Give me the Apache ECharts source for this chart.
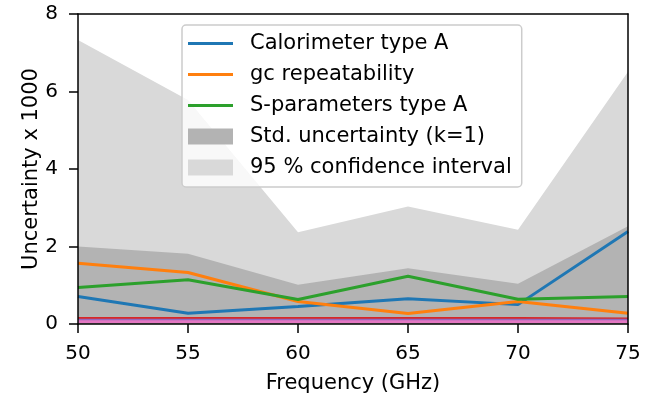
<!DOCTYPE html>
<html>
<head>
<meta charset="utf-8">
<script src="https://cdn.jsdelivr.net/npm/echarts@6/dist/echarts.min.js"></script>
<style>
  html, body { margin: 0; padding: 0; background: #fff; }
  #chart { width: 655px; height: 399px; }
</style>
</head>
<body>
<div id="chart"></div>
<script>
const freqs = [50, 55, 60, 65, 70, 75];
const calorimeterA = [0.71, 0.28, 0.45, 0.65, 0.50, 2.39];
const gcRepeat = [1.57, 1.33, 0.58, 0.27, 0.58, 0.28];
const sParamsA = [0.94, 1.14, 0.63, 1.23, 0.64, 0.71];
const stdUnc = [2.00, 1.81, 1.01, 1.44, 1.04, 2.52];
const conf95 = [7.33, 5.78, 2.37, 3.03, 2.43, 6.51];
// small contributions near the bottom (no legend entry)
const minorRed = [0.14, 0.14, 0.14, 0.14, 0.14, 0.13];
const minorPurple = [0.10, 0.10, 0.10, 0.10, 0.10, 0.10];
const minorPink = [0.06, 0.06, 0.06, 0.06, 0.06, 0.06];

const pairs = (vals) => freqs.map((f, i) => [f, vals[i]]);
const FONT = "DejaVu Sans";

const chart = echarts.init(document.getElementById("chart"));

const lineSeries = (name, vals, color, z) => ({
  name: name,
  type: "line",
  data: pairs(vals),
  showSymbol: false,
  symbol: "none",
  color: color,
  lineStyle: { color: color, width: 3 },
  itemStyle: { color: color },
  z: z,
  animation: false,
  silent: true,
});

const bandSeries = (name, vals, color, z) => ({
  name: name,
  type: "line",
  data: pairs(vals),
  showSymbol: false,
  symbol: "none",
  color: color,
  lineStyle: { width: 0, color: color },
  itemStyle: { color: color },
  areaStyle: { color: color, opacity: 1 },
  z: z,
  animation: false,
  silent: true,
});

const lineIcon = "path://M0,0H45V3H0Z";
const boxIcon = "path://M0,0H45V16H0Z";

chart.setOption({
  animation: false,
  grid: { left: 78, right: 27, top: 14, bottom: 74 },
  legend: {
    left: 182,
    top: 25,
    orient: "vertical",
    padding: [8, 10, 9, 6],
    itemGap: 10,
    itemWidth: 45,
    itemHeight: 16,
    backgroundColor: "rgba(255,255,255,0.8)",
    borderColor: "#cccccc",
    borderWidth: 1.5,
    borderRadius: 4,
    z: 20,
    textStyle: { fontFamily: FONT, fontSize: 21, lineHeight: 21, color: "#000", padding: [0, 0, 0, 12] },
    data: [
      { name: "Calorimeter type A", icon: lineIcon, itemStyle: { color: "#1f77b4" } },
      { name: "gc repeatability", icon: lineIcon, itemStyle: { color: "#ff7f0e" } },
      { name: "S-parameters type A", icon: lineIcon, itemStyle: { color: "#2ca02c" } },
      { name: "Std. uncertainty (k=1)", icon: boxIcon, itemStyle: { color: "#b3b3b3" } },
      { name: "95 % confidence interval", icon: boxIcon, itemStyle: { color: "#d9d9d9" } },
    ],
  },
  xAxis: [
    {
      type: "value",
      min: 50,
      max: 75,
      interval: 5,
      name: "Frequency (GHz)",
      nameLocation: "middle",
      nameGap: 49,
      nameTextStyle: { fontFamily: FONT, fontSize: 21, color: "#000" },
      axisLine: { onZero: false, lineStyle: { color: "#000", width: 1.5 } },
      axisTick: { show: true, inside: false, length: 9, lineStyle: { color: "#000", width: 1.5 } },
      axisLabel: { fontFamily: FONT, fontSize: 20, color: "#000", margin: 20 },
      splitLine: { show: false },
      z: 10,
    },
    {
      type: "value",
      position: "top",
      min: 50,
      max: 75,
      axisLine: { show: true, onZero: false, lineStyle: { color: "#000", width: 1.5 } },
      axisTick: { show: false },
      axisLabel: { show: false },
      splitLine: { show: false },
      z: 10,
    },
  ],
  yAxis: [
    {
      type: "value",
      min: 0,
      max: 8,
      interval: 2,
      name: "Uncertainty x 1000",
      nameLocation: "middle",
      nameGap: 36,
      nameMoveOverlap: false,
      nameTextStyle: { fontFamily: FONT, fontSize: 21, color: "#000" },
      axisLine: { show: true, onZero: false, lineStyle: { color: "#000", width: 1.5 } },
      axisTick: { show: true, inside: false, length: 9, lineStyle: { color: "#000", width: 1.5 } },
      axisLabel: { fontFamily: FONT, fontSize: 20, color: "#000", margin: 20 },
      splitLine: { show: false },
      z: 10,
    },
    {
      type: "value",
      position: "right",
      min: 0,
      max: 8,
      axisLine: { show: true, onZero: false, lineStyle: { color: "#000", width: 1.5 } },
      axisTick: { show: false },
      axisLabel: { show: false },
      splitLine: { show: false },
      z: 10,
    },
  ],
  series: [
    bandSeries("95 % confidence interval", conf95, "#d9d9d9", 1),
    bandSeries("Std. uncertainty (k=1)", stdUnc, "#b3b3b3", 2),
    lineSeries("Calorimeter type A", calorimeterA, "#1f77b4", 3),
    lineSeries("gc repeatability", gcRepeat, "#ff7f0e", 3),
    lineSeries("S-parameters type A", sParamsA, "#2ca02c", 3),
    lineSeries("minor red", minorRed, "#d62728", 4),
    lineSeries("minor purple", minorPurple, "#9467bd", 4),
    lineSeries("minor pink", minorPink, "#e377c2", 4),
  ],
});
</script>
</body>
</html>
